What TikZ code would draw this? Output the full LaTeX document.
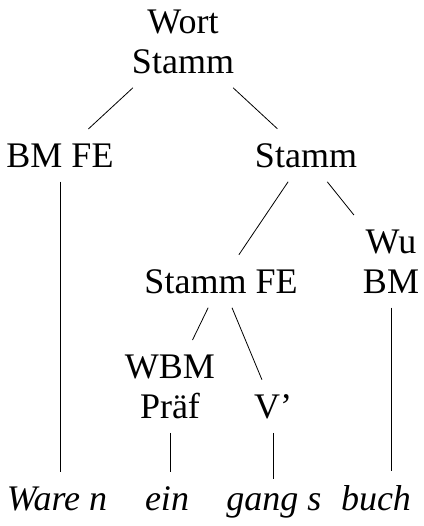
\documentclass[tikz,border=0pt]{standalone}
\usepackage{fontspec}
\setmainfont{Liberation Serif}

\begin{document}
\begin{tikzpicture}[x=0.5pt, y=-0.5pt,
  every node/.style={font=\fontsize{18}{20}\selectfont, align=center, inner sep=7pt, anchor=base},
  leaf/.style={font=\fontsize{18}{20}\selectfont\itshape}]
\useasboundingbox (0,0) rectangle (424,526);

% inner nodes
\node (wort) at (183,73) {Wort\\Stamm};
\node (bmfe) at (60,167) {BM FE};
\node (stamm) at (306,167) {Stamm};
\node (stammfe) at (221,293) {Stamm FE};
\node (wubm) at (391,293) {Wu\\BM};
\node (wbm) at (170,418) {WBM\\Präf};
\node (vstrich) at (273,418) {V’};

% leaves
\node[leaf] (ware) at (57,510) {Ware n};
\node[leaf] (ein) at (167,510) {ein};
\node[leaf] (gang) at (274,510) {gang s};
\node[leaf] (buch) at (376,510) {buch};

% branches
\draw (wort) -- (bmfe);
\draw (wort) -- (stamm);
\draw (stamm) -- (stammfe);
\draw (stamm) -- (wubm);
\draw (stammfe) -- (wbm);
\draw (stammfe) -- (vstrich);

% vertical lines to the leaves
\draw (bmfe.south) -- (bmfe.south |- ware.north);
\draw (wbm.south) -- (wbm.south |- ein.north);
\draw (vstrich.south) -- (vstrich.south |- gang.north);
\draw (wubm.south) -- (wubm.south |- buch.north);
\end{tikzpicture}
\end{document}
